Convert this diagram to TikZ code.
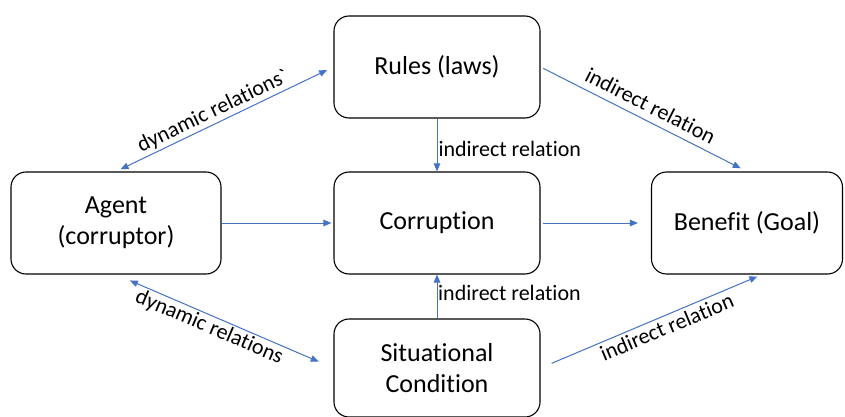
\documentclass[tikz,border=0pt]{standalone}
\usepackage{fontspec}
\setmainfont{Carlito}[Ligatures={NoCommon}]
\usetikzlibrary{arrows.meta}
\definecolor{linkblue}{RGB}{68,114,196}
\tikzset{
  box/.style={draw=black, line width=1.1pt, rounded corners=15pt, fill=white,
    align=center, font=\fontsize{26}{31}\selectfont, inner sep=0pt},
  link/.style={draw=linkblue, line width=1pt, -{Triangle[length=8pt,width=6.5pt]}},
  dlink/.style={draw=linkblue, line width=1pt, {Triangle[length=8pt,width=6.5pt]}-{Triangle[length=8pt,width=6.5pt]}},
  lab/.style={font=\fontsize{22}{26}\selectfont, text=black, inner sep=2pt}
}
\begin{document}
\begin{tikzpicture}[x=1pt,y=-1pt]
\useasboundingbox[fill=white] (0,0) rectangle (845,417);
\node[box, minimum width=206pt, minimum height=102pt] (rules) at (437,67) {Rules (laws)};
\node[box, minimum width=210pt, minimum height=102pt] (agent) at (116,223) {Agent\\(corruptor)};
\node[box, minimum width=206pt, minimum height=102pt] (corr) at (437,223) {Corruption};
\node[box, minimum width=191pt, minimum height=102pt] (benefit) at (747,223) {Benefit (Goal)};
\node[box, minimum width=206pt, minimum height=98pt] (sit) at (437,368) {Situational\\Condition};
\coordinate (bsouth) at ([xshift=15pt]benefit.south);
% horizontal
\draw[link, shorten >=2pt] (agent.east) -- (corr.west);
\draw[link, shorten <=2pt, shorten >=13pt] (corr.east) -- (benefit.west);
% vertical
\draw[link] (rules.south) -- (corr.north)
  node[lab, pos=0.72, anchor=base west, inner sep=0pt, xshift=1pt] {indirect relation};
\draw[link] (sit.north) -- (corr.south);
\node[lab, anchor=base west, inner sep=0pt] (lab2) at (438,300) {indirect relation};
% diagonals
\draw[dlink, shorten <=5pt, shorten >=7pt] (agent.north) -- (rules.west)
  node[lab, sloped, above, pos=0.47] {dynamic relations\textasciigrave};
\draw[dlink, shorten <=15pt, shorten >=16pt] (agent.south) -- (sit.west)
  node[lab, sloped, below, pos=0.45] {dynamic relations};
\draw[link, shorten <=3pt, shorten >=7pt] (rules.east) -- (benefit.north)
  node[lab, sloped, above, pos=0.5, inner sep=7pt] {indirect relation};
\draw[link, shorten <=12pt, shorten >=5pt] (sit.east) -- (bsouth)
  node[lab, sloped, below, pos=0.55, inner sep=3pt] {indirect relation};
\end{tikzpicture}
\end{document}
